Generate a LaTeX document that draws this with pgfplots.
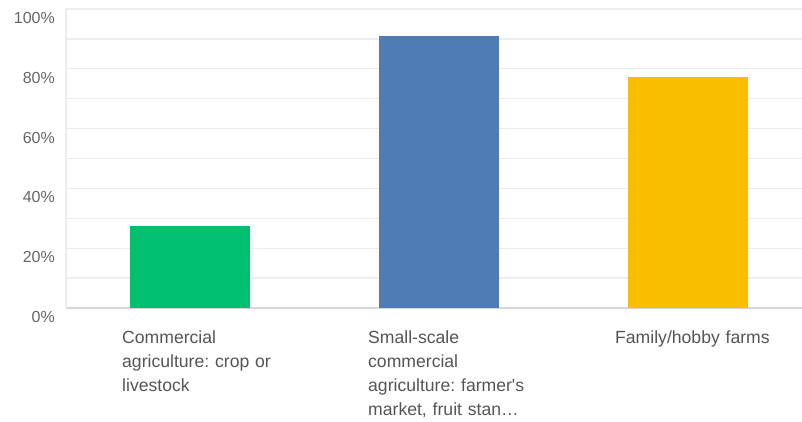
\documentclass[border=0pt]{standalone}
\usepackage{fontspec}
\setmainfont{Liberation Sans}
\usepackage{pgfplots}
\pgfplotsset{compat=1.18}
\frenchspacing

\definecolor{barGreen}{HTML}{00BF6F}
\definecolor{barBlue}{HTML}{507CB6}
\definecolor{barYellow}{HTML}{F9BE00}
\definecolor{gridGray}{HTML}{EDEDED}
\definecolor{baseGray}{HTML}{D6D6D6}
\definecolor{tickGray}{HTML}{666666}
\definecolor{labelGray}{HTML}{555555}

\begin{document}
\begin{tikzpicture}[x=1pt,y=1pt]
\useasboundingbox (0,0) rectangle (802,422);
\begin{axis}[
  at={(66pt,114pt)}, anchor=south west,
  scale only axis, width=736pt, height=299pt,
  xmin=-0.498, xmax=2.458, ymin=0, ymax=100,
  axis x line=bottom, axis y line=left,
  x axis line style={draw=baseGray, line width=2pt, -},
  y axis line style={draw=gridGray, line width=1.5pt, -},
  % category labels sit slightly left of each bar's centre
  xtick={0,0.988,1.980},
  xticklabels={
    {Commercial\\agriculture: crop or\\livestock},
    {Small-scale\\commercial\\agriculture: farmer\textquotesingle s\\market, fruit stan\ldots},
    {Family/hobby farms}},
  ytick={0,20,40,60,80,100}, minor ytick={10,30,50,70,90},
  ymajorgrids, yminorgrids,
  major grid style={draw=gridGray, line width=1.3pt},
  minor grid style={draw=gridGray, line width=1.3pt},
  major tick length=0pt, minor tick length=0pt,
  /pgf/number format/assume math mode=true,
  yticklabel={\pgfmathprintnumber{\tick}\%},
  yticklabel style={inner sep=0pt, anchor=east, xshift=-11pt, yshift=-9pt,
    font=\fontsize{16}{19}\selectfont, text=tickGray},
  xticklabel style={inner sep=0pt, anchor=north west, align=left,
    text width=180pt, xshift=-68pt, yshift=-23pt,
    font=\fontsize{17.6}{23.7}\selectfont, text=labelGray},
  clip=false,
]
\addplot[ybar, bar width=120pt, fill=barGreen, draw=none] coordinates {(0,27.27)};
\addplot[ybar, bar width=120pt, fill=barBlue, draw=none] coordinates {(1,90.91)};
\addplot[ybar, bar width=120pt, fill=barYellow, draw=none] coordinates {(2,77.27)};
\end{axis}
\end{tikzpicture}
\end{document}
